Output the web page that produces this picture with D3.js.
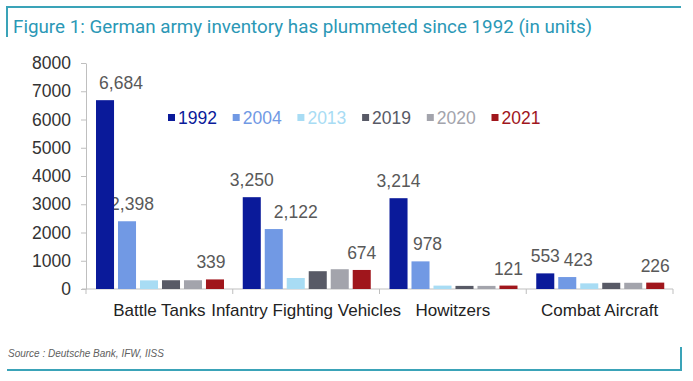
<!DOCTYPE html>
<html>
<head>
<meta charset="utf-8">
<script src="https://cdn.jsdelivr.net/npm/d3@7"></script>
<style>
  body { margin: 0; background: #fff; }
  svg text { font-family: "Liberation Sans", Arial, sans-serif; }
</style>
</head>
<body>
<div id="chart"></div>
<script>
// data
const categories = ["Battle Tanks", "Infantry Fighting Vehicles", "Howitzers", "Combat Aircraft"];
const years = ["1992", "2004", "2013", "2019", "2020", "2021"];
const v1992 = [6684, 3250, 3214, 553];
const v2004 = [2398, 2122, 978, 423];
const v2013 = [305, 390, 120, 200];
const v2019 = [310, 630, 110, 220];
const v2020 = [310, 700, 110, 220];
const v2021 = [339, 674, 121, 226];
const yTicks = [0, 1000, 2000, 3000, 4000, 5000, 6000, 7000, 8000];
const labelledYears = ["1992", "2004", "2021"];

const seriesValues = { "1992": v1992, "2004": v2004, "2013": v2013, "2019": v2019, "2020": v2020, "2021": v2021 };
const colors = {
  "1992": "#0a1a9a",
  "2004": "#7199e4",
  "2013": "#a8dcf4",
  "2019": "#585a66",
  "2020": "#a3a4ac",
  "2021": "#a0161c"
};

// hand-moved labels in the original (px shift)
const labelNudge = { "0|1992": 16, "0|2004": 5, "0|2021": -4, "1|2004": 22, "2|2004": 7, "3|2004": 11 };

const W = 693, H = 381;
const plot = { left: 86, right: 673, top: 63, bottom: 289 };
const teal = "#3aa3b8";
const fs = "17.5px";

const svg = d3.select("#chart").append("svg")
  .attr("width", W)
  .attr("height", H);

// frame lines
svg.append("path")
  .attr("d", `M7,37V7H681`)
  .attr("fill", "none").attr("stroke", teal).attr("stroke-width", 2);
svg.append("path")
  .attr("d", `M7,370H681V347`)
  .attr("fill", "none").attr("stroke", teal).attr("stroke-width", 2);

svg.append("text")
  .attr("x", 13).attr("y", 33)
  .style("font-family", "Roboto, sans-serif")
  .attr("font-size", "18.8px")
  .attr("fill", "#2b98b6")
  .text("Figure 1: German army inventory has plummeted since 1992 (in units)");

svg.append("text")
  .attr("x", 8).attr("y", 357)
  .attr("font-size", "10px")
  .attr("font-style", "italic")
  .attr("fill", "#606060")
  .text("Source : Deutsche Bank, IFW, IISS");

// scales
const x = d3.scaleBand().domain(categories).range([plot.left, plot.right]);
const xYear = d3.scaleBand().domain(years).range([10, 138]).paddingInner(0.18);
const y = d3.scaleLinear().domain([0, 8000]).range([plot.bottom, plot.top]);

// y axis
const yAxis = svg.append("g")
  .attr("transform", `translate(${plot.left},0)`)
  .call(d3.axisLeft(y).tickValues(yTicks).tickFormat(d3.format("d")).tickSize(5).tickSizeOuter(0).tickPadding(10));
yAxis.select(".domain").attr("stroke", "#bfbfbf");
yAxis.selectAll(".tick line").attr("stroke", "#bfbfbf");
yAxis.selectAll("text").attr("font-size", fs).attr("fill", "#333").attr("font-family", null);

// x axis
const xAxis = svg.append("g")
  .attr("transform", `translate(0,${plot.bottom})`)
  .call(d3.axisBottom(x).tickSize(0).tickPadding(14.5));
xAxis.select(".domain").attr("stroke", "#bfbfbf").attr("d", `M${plot.left - 4},0H${plot.right}`);
xAxis.selectAll("text").attr("font-size", "17px").attr("fill", "#222").attr("font-family", null);
xAxis.selectAll(".edge")
  .data(categories.map(c => x(c)).concat([x.range()[1]]))
  .enter().append("line")
  .attr("class", "edge")
  .attr("x1", d => d).attr("x2", d => d)
  .attr("y1", 0).attr("y2", 5)
  .attr("stroke", "#bfbfbf");

// flatten for drawing
const rows = [];
categories.forEach((c, i) => {
  years.forEach(yr => rows.push({ ci: i, cat: c, year: yr, value: seriesValues[yr][i] }));
});

// value labels (drawn first, bars sit on top as in original)
svg.append("g").selectAll("text")
  .data(rows.filter(d => labelledYears.includes(d.year)))
  .enter().append("text")
  .attr("x", d => x(d.cat) + xYear(d.year) + xYear.bandwidth() / 2 + (labelNudge[d.ci + "|" + d.year] || 0))
  .attr("y", d => y(d.value) - 11)
  .attr("text-anchor", "middle")
  .attr("font-size", fs)
  .attr("fill", "#595959")
  .text(d => d3.format(",")(d.value));

// bars
svg.append("g").selectAll("rect")
  .data(rows)
  .enter().append("rect")
  .attr("x", d => x(d.cat) + xYear(d.year))
  .attr("y", d => y(d.value))
  .attr("width", xYear.bandwidth())
  .attr("height", d => y(0) - y(d.value))
  .attr("fill", d => colors[d.year]);

// legend
const legend = svg.append("g").attr("transform", "translate(168,0)");
const item = legend.selectAll("g")
  .data(years)
  .enter().append("g")
  .attr("transform", (d, i) => `translate(${i * 64.7},0)`);
item.append("rect")
  .attr("x", 0).attr("y", 114)
  .attr("width", 7).attr("height", 7)
  .attr("fill", d => colors[d]);
item.append("text")
  .attr("x", 10).attr("y", 124)
  .attr("font-size", fs)
  .attr("fill", d => colors[d])
  .text(d => d);
</script>
</body>
</html>
